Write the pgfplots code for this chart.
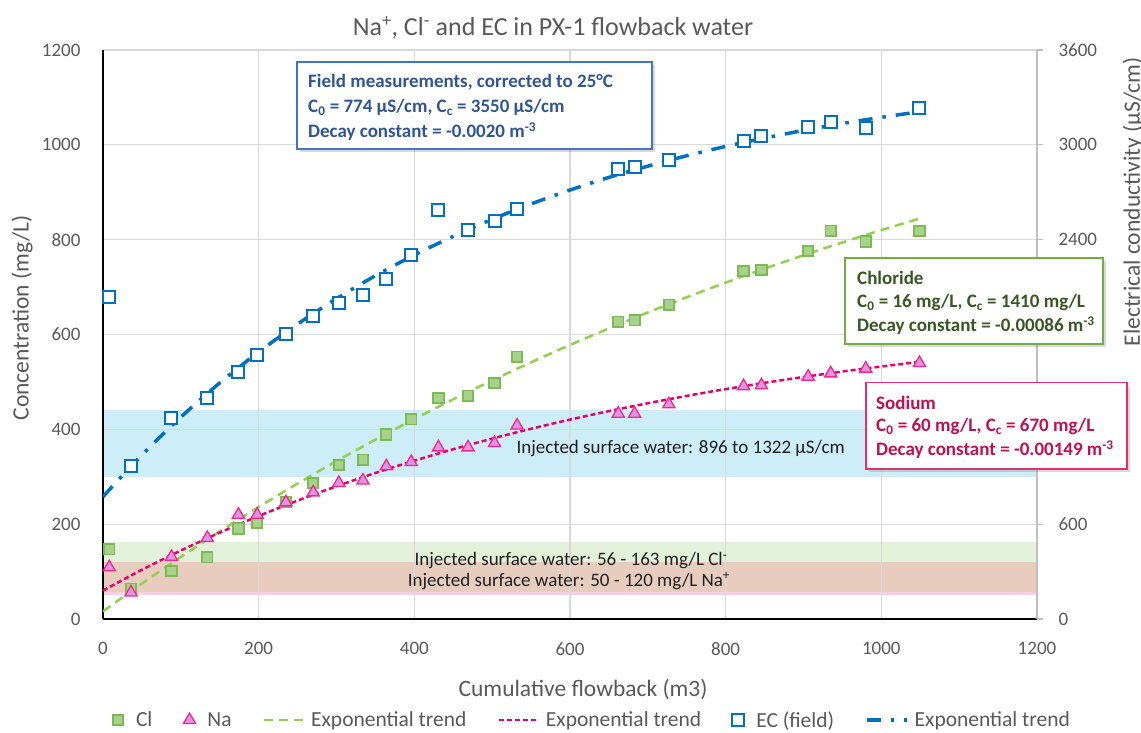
\documentclass[border=0pt]{standalone}
\usepackage{fontspec}
\setmainfont{Carlito}
\usepackage{pgfplots}
\usepackage{pgfplotstable}
\pgfplotsset{compat=1.18}
\usetikzlibrary{shadows}

\definecolor{tickgray}{HTML}{595959}
\definecolor{gridgray}{HTML}{D9D9D9}
\definecolor{rightgray}{HTML}{BFBFBF}
\definecolor{clline}{HTML}{92D050}
\definecolor{clmark}{HTML}{7CBB4F}
\definecolor{clfill}{HTML}{A9D18E}
\definecolor{naline}{HTML}{E6006E}
\definecolor{namark}{HTML}{F0288C}
\definecolor{nafill}{HTML}{DD96E6}
\definecolor{ecblue}{HTML}{0070C0}
\definecolor{blueband}{HTML}{CDEDF8}
\definecolor{greenband}{HTML}{E3F1DA}
\definecolor{pinkband}{HTML}{F9CFE3}
\definecolor{mixband}{HTML}{E8CDBF}
\definecolor{fieldtext}{HTML}{2F5597}
\definecolor{fieldborder}{HTML}{4472C4}
\definecolor{cltext}{HTML}{385723}
\definecolor{clborder}{HTML}{70AD47}
\definecolor{natext}{HTML}{C0104F}
\definecolor{naborder}{HTML}{E0306F}

% Measured samples: cumulative flowback (m3), Cl and Na (mg/L), EC (uS/cm)
\pgfplotstableread{
x     Cl   Na   EC
8     147  109  2036
36    64   56   969
88    101  131  1273
134   130  171  1399
174   191  220  1565
198   203  220  1670
235   247  246  1803
270   287  267  1914
303   325  287  1998
334   336  292  2050
364   389  322  2149
396   421  331  2305
431   466  362  2586
469   471  362  2460
503   498  371  2519
532   553  408  2594
662   627  433  2844
683   630  433  2857
727   663  453  2905
823   734  491  3024
846   736  493  3054
906   776  511  3113
935   819  518  3143
980   796  528  3109
1049  818  540  3236
}\obs

% Exponential trend curves, tabulated every 50 m3
\pgfplotstableread{
x     Cl     Na     EC
0     16.0   60.0   774
50    74.7   103.8  1038
100   130.9  144.4  1277
150   184.7  182.2  1494
200   236.3  217.2  1689
250   285.7  249.7  1866
300   333.0  279.9  2027
350   378.3  307.9  2172
400   421.8  333.9  2303
450   463.3  358.0  2421
500   503.2  380.4  2529
550   541.4  401.2  2626
600   577.9  420.5  2714
650   612.9  438.4  2794
700   646.5  455.0  2865
750   678.6  470.5  2931
800   709.4  484.8  2990
850   738.9  498.1  3043
900   767.1  510.4  3091
950   794.2  521.9  3135
1000  820.1  532.5  3174
1050  844.9  542.4  3210
}\trend

\pgfplotsset{
  base/.style={scale only axis, width=934pt, height=569pt,
    at={(103pt,113pt)}, anchor=south west, xmin=0, xmax=1200},
  markleg/.style={legend image code/.code={\path[draw=none, fill=none] (-6pt,0pt) -- (12pt,0pt); \draw[##1] plot coordinates {(0pt,0pt)};}},
  lineleg/.style={legend image code/.code={\draw[##1] (0pt,0pt) -- (40pt,0pt);}},
  clstyle/.style={only marks, mark=square*, mark size=5.2pt, mark options={draw=clmark, fill=clfill, line width=1.8pt, solid}},
  nastyle/.style={only marks, mark=triangle*, mark size=7pt, mark options={draw=namark, fill=nafill, line width=1.3pt, solid}},
  ecstyle/.style={only marks, mark=square*, mark size=6pt, mark options={draw=ecblue, fill=white, line width=2pt, solid}},
  cltrend/.style={no markers, clline, line width=2.5pt, dash pattern=on 9pt off 6pt},
  natrend/.style={no markers, naline, line width=2.5pt, dash pattern=on 5pt off 3pt},
  ectrend/.style={no markers, ecblue, line width=3.5pt, dash pattern=on 14pt off 10pt on 3.5pt off 10pt},
}

\begin{document}
\begin{tikzpicture}
% injected water EC band
\begin{axis}[base, hide axis, ymin=0, ymax=3600]
\addplot[fill=blueband, draw=none, forget plot] coordinates {(0,896) (1200,896) (1200,1322) (0,1322)};
\end{axis}
% injected water Cl and Na bands
\begin{axis}[base, hide axis, ymin=0, ymax=1200]
\addplot[fill=greenband, draw=none, forget plot] coordinates {(0,56) (1200,56) (1200,163) (0,163)};
\addplot[fill=pinkband, draw=none, forget plot] coordinates {(0,50) (1200,50) (1200,120) (0,120)};
\addplot[fill=mixband, draw=none, forget plot] coordinates {(0,56) (1200,56) (1200,120) (0,120)};
\end{axis}
% concentrations
\begin{axis}[base, ymin=0, ymax=1200,
  axis x line*=bottom, axis y line*=left,
  x axis line style={black, line width=2.5pt},
  y axis line style={black, line width=2pt},
  grid=major, grid style={gridgray, line width=1.2pt},
  xtick={0,200,...,1200}, ytick={0,200,...,1200},
  major tick length=0pt,
  /pgf/number format/assume math mode=true,
  /pgf/number format/1000 sep={},
  tick label style={font=\fontsize{19}{22}\selectfont, text=tickgray},
  xticklabel style={yshift=-20pt},
  yticklabel style={xshift=-19pt},
  title={Na\textsuperscript{+}, Cl\textsuperscript{-} and EC in PX-1 flowback water},
  title style={at={(axis description cs:0.4818,1.028)}, anchor=center, font=\fontsize{26}{30}\selectfont, text=tickgray},
  xlabel={Cumulative flowback (m3)},
  xlabel style={at={(axis description cs:0.514,-0.1248)}, anchor=center, font=\fontsize{23.5}{27}\selectfont, text=tickgray},
  ylabel={Concentration (mg/L)},
  ylabel style={at={(axis description cs:-0.0867,0.529)}, anchor=center, font=\fontsize{23.5}{27}\selectfont, text=tickgray},
]
\addplot[cltrend, smooth] table[x=x, y=Cl] {\trend};
\addplot[natrend, smooth] table[x=x, y=Na] {\trend};
\addplot[clstyle] table[x=x, y=Cl] {\obs};
\addplot[nastyle] table[x=x, y=Na] {\obs};
\end{axis}
% electrical conductivity
\begin{axis}[base, ymin=0, ymax=3600,
  axis x line=none, axis y line*=right,
  y axis line style={rightgray, line width=1.2pt},
  ytick={0,600,...,3600},
  yticklabels={0,600,,,2400,3000,3600},
  tick align=outside, major tick length=6pt,
  ytick style={rightgray, line width=1.2pt},
  tick label style={font=\fontsize{19}{22}\selectfont, text=tickgray},
  yticklabel style={xshift=12pt},
  ylabel={Electrical conductivity (µS/cm)},
  ylabel style={at={(axis description cs:1.103,0.733)}, anchor=center, font=\fontsize{23.5}{27}\selectfont, text=tickgray},
  legend columns=6,
  legend style={draw=none, fill=none, at={(axis description cs:0.5225,-0.1775)}, anchor=center,
    font=\fontsize{21.5}{25}\selectfont, text=tickgray,
    nodes={inner sep=0pt},
    /tikz/every odd column/.append style={column sep=6pt},
    /tikz/every even column/.append style={column sep=31pt}},
]
\addlegendimage{clstyle, markleg}\addlegendentry{Cl}
\addlegendimage{nastyle, markleg}\addlegendentry{Na}
\addlegendimage{cltrend, lineleg}\addlegendentry{Exponential trend}
\addlegendimage{natrend, lineleg}\addlegendentry{Exponential trend}
\addplot[ectrend, smooth, forget plot] table[x=x, y=EC] {\trend};
\addplot[ecstyle, markleg] table[x=x, y=EC] {\obs};
\addlegendentry{EC (field)}
\addlegendimage{ectrend, lineleg}\addlegendentry{Exponential trend}
\end{axis}

% band captions
\node[anchor=base west, font=\fontsize{19}{22}\selectfont, text=black!88] at (513pt,279pt) {Injected surface water: 896 to 1322 µS/cm};
\node[anchor=base, font=\fontsize{19}{22}\selectfont, text=black!88] at (571pt,166.5pt) {Injected surface water: 56 - 163 mg/L Cl\textsuperscript{-}};
\node[anchor=base, font=\fontsize{19}{22}\selectfont, text=black!88] at (569pt,145.8pt) {Injected surface water: 50 - 120 mg/L Na\textsuperscript{+}};

% fit annotation boxes
\filldraw[fill=white, draw=fieldborder, line width=1.4pt, drop shadow={shadow xshift=3pt, shadow yshift=-3pt, opacity=0.3}] (297pt,670pt) rectangle (652pt,583pt);
\begin{scope}[every node/.style={anchor=base west, font=\bfseries\fontsize{19}{22}\selectfont, text=fieldtext, inner sep=0pt}]
\node at (308pt,644pt) {Field measurements, corrected to 25°C};
\node at (308pt,619pt) {C\textsubscript{0} = 774 µS/cm, C\textsubscript{c} = 3550 µS/cm};
\node at (308pt,594pt) {Decay constant = -0.0020 m\textsuperscript{-3}};
\end{scope}

\filldraw[fill=white, draw=clborder, line width=1.4pt, drop shadow={shadow xshift=3pt, shadow yshift=-3pt, opacity=0.3}] (845pt,474pt) rectangle (1103pt,388pt);
\begin{scope}[every node/.style={anchor=base west, font=\bfseries\fontsize{19}{22}\selectfont, text=cltext, inner sep=0pt}]
\node at (857pt,447.4pt) {Chloride};
\node at (857pt,424pt) {C\textsubscript{0} = 16 mg/L, C\textsubscript{c} = 1410 mg/L};
\node at (857pt,400.7pt) {Decay constant = -0.00086 m\textsuperscript{-3}};
\end{scope}

\filldraw[fill=white, draw=naborder, line width=1.4pt, drop shadow={shadow xshift=3pt, shadow yshift=-3pt, opacity=0.3}] (866pt,349.3pt) rectangle (1127pt,263pt);
\begin{scope}[every node/.style={anchor=base west, font=\bfseries\fontsize{19}{22}\selectfont, text=natext, inner sep=0pt}]
\node at (876pt,322.4pt) {Sodium};
\node at (876pt,300pt) {C\textsubscript{0} = 60 mg/L, C\textsubscript{c} = 670 mg/L};
\node at (876pt,276.7pt) {Decay constant = -0.00149 m\textsuperscript{-3}};
\end{scope}

\pgfresetboundingbox
\useasboundingbox (0,0) rectangle (1141pt,732pt);
\end{tikzpicture}
\end{document}
